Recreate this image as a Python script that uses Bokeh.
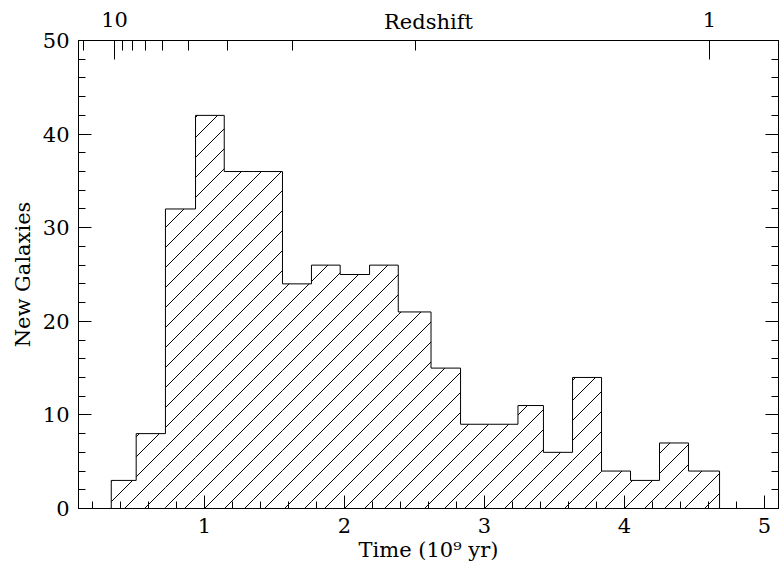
import math
from bokeh.plotting import figure
from bokeh.models import (LinearAxis, FixedTicker, SingleIntervalTicker,
                          CustomJSTickFormatter, Range1d)
from bokeh.embed import file_html
from bokeh.resources import INLINE

# ---- data ----
bin_edges = [0.334, 0.512, 0.721, 0.936, 1.141, 1.348, 1.557, 1.764, 1.969,
             2.179, 2.384, 2.618, 2.829, 3.034, 3.239, 3.421, 3.629, 3.836,
             4.043, 4.250, 4.457, 4.679]
counts = [3, 8, 32, 42, 36, 36, 24, 26, 25, 26, 21, 15, 9, 9, 11, 6, 14, 4, 3, 7, 4]
redshift_major = [10, 1]
redshift_minor = [20, 9, 8, 7, 6, 5, 4, 3, 2]
t0_gyr = 13.03  # age scale of the top (redshift) axis, t = t0 (1+z)^-1.5

FONT = "DejaVu Serif"
FS = "21px"

W, H = 784, 571
BL, BR, BT, BB = 78, 6, 40, 63
X0, X1, Y0, Y1 = 0.1, 5.1, 0.0, 50.0
HATCH_SPACING_PX = 20.0


def age(z):
    return t0_gyr * (1.0 + z) ** -1.5


# step outline of the histogram
xs = [bin_edges[0]]
ys = [0]
for i, c in enumerate(counts):
    xs += [bin_edges[i], bin_edges[i + 1]]
    ys += [c, c]
xs.append(bin_edges[-1])
ys.append(0)

# 45-degree hatch lines (in screen space), clipped to each bin
kx = (W - BL - BR) / (X1 - X0)   # px per data unit along x
ky = (H - BT - BB) / (Y1 - Y0)   # px per data unit along y
hx0, hy0, hx1, hy1 = [], [], [], []
dmin = min(kx * a - ky * h for a, h in zip(bin_edges[:-1], counts))
dmax = max(kx * b for b in bin_edges[1:])
for k in range(math.floor(dmin / HATCH_SPACING_PX), math.ceil(dmax / HATCH_SPACING_PX) + 1):
    d = k * HATCH_SPACING_PX
    for a, b, h in zip(bin_edges[:-1], bin_edges[1:], counts):
        ylo = max(0.0, (kx * a - d) / ky)
        yhi = min(float(h), (kx * b - d) / ky)
        if yhi > ylo:
            hx0.append((d + ky * ylo) / kx)
            hy0.append(ylo)
            hx1.append((d + ky * yhi) / kx)
            hy1.append(yhi)

p = figure(width=W, height=H, x_range=Range1d(X0, X1), y_range=Range1d(Y0, Y1),
           output_backend="svg", toolbar_location=None,
           min_border_left=BL, min_border_right=BR, min_border_top=BT, min_border_bottom=BB,
           background_fill_color="white", border_fill_color="white")
p.xgrid.visible = False
p.ygrid.visible = False
p.outline_line_color = "black"
p.outline_line_width = 1

p.segment(hx0, hy0, hx1, hy1, line_color="black", line_width=1)
p.line(xs, ys, line_color="black", line_width=1)


def style(ax, major, minor):
    ax.axis_line_color = "black"
    ax.major_tick_line_color = "black"
    ax.minor_tick_line_color = "black"
    ax.major_tick_in = major
    ax.major_tick_out = 0
    ax.minor_tick_in = minor
    ax.minor_tick_out = 0
    ax.major_label_text_font = FONT
    ax.major_label_text_font_size = FS
    ax.major_label_text_color = "black"
    ax.axis_label_text_font = FONT
    ax.axis_label_text_font_size = FS
    ax.axis_label_text_font_style = "normal"
    ax.axis_label_text_color = "black"


xb = p.xaxis[0]
xb.ticker = SingleIntervalTicker(interval=1, num_minor_ticks=5)
style(xb, 13, 7)
xb.axis_label = "Time (10\u2079 yr)"
xb.major_label_standoff = 9
xb.axis_label_standoff = 2

yl = p.yaxis[0]
yl.ticker = SingleIntervalTicker(interval=10, num_minor_ticks=5)
style(yl, 13, 7)
yl.axis_label = "New Galaxies"
yl.major_label_standoff = 9
yl.axis_label_standoff = 5
yl.major_label_orientation = "horizontal"

yr = LinearAxis(ticker=SingleIntervalTicker(interval=10, num_minor_ticks=5),
                formatter=CustomJSTickFormatter(code="return '';"))
style(yr, 13, 7)
yr.major_label_text_color = None
yr.major_label_standoff = 0
p.add_layout(yr, "right")

xt = LinearAxis(ticker=FixedTicker(ticks=[age(z) for z in redshift_major],
                                   minor_ticks=[age(z) for z in redshift_minor]),
                formatter=CustomJSTickFormatter(
                    args=dict(t0=t0_gyr),
                    code="return String(Math.round(Math.pow(t0 / tick, 2 / 3) - 1));"))
style(xt, 19, 10)
xt.major_label_standoff = 14
xt.axis_label = "Redshift"
xt.axis_label_standoff = -25
p.add_layout(xt, "above")

open("out.html", "w").write(file_html(p, INLINE))
